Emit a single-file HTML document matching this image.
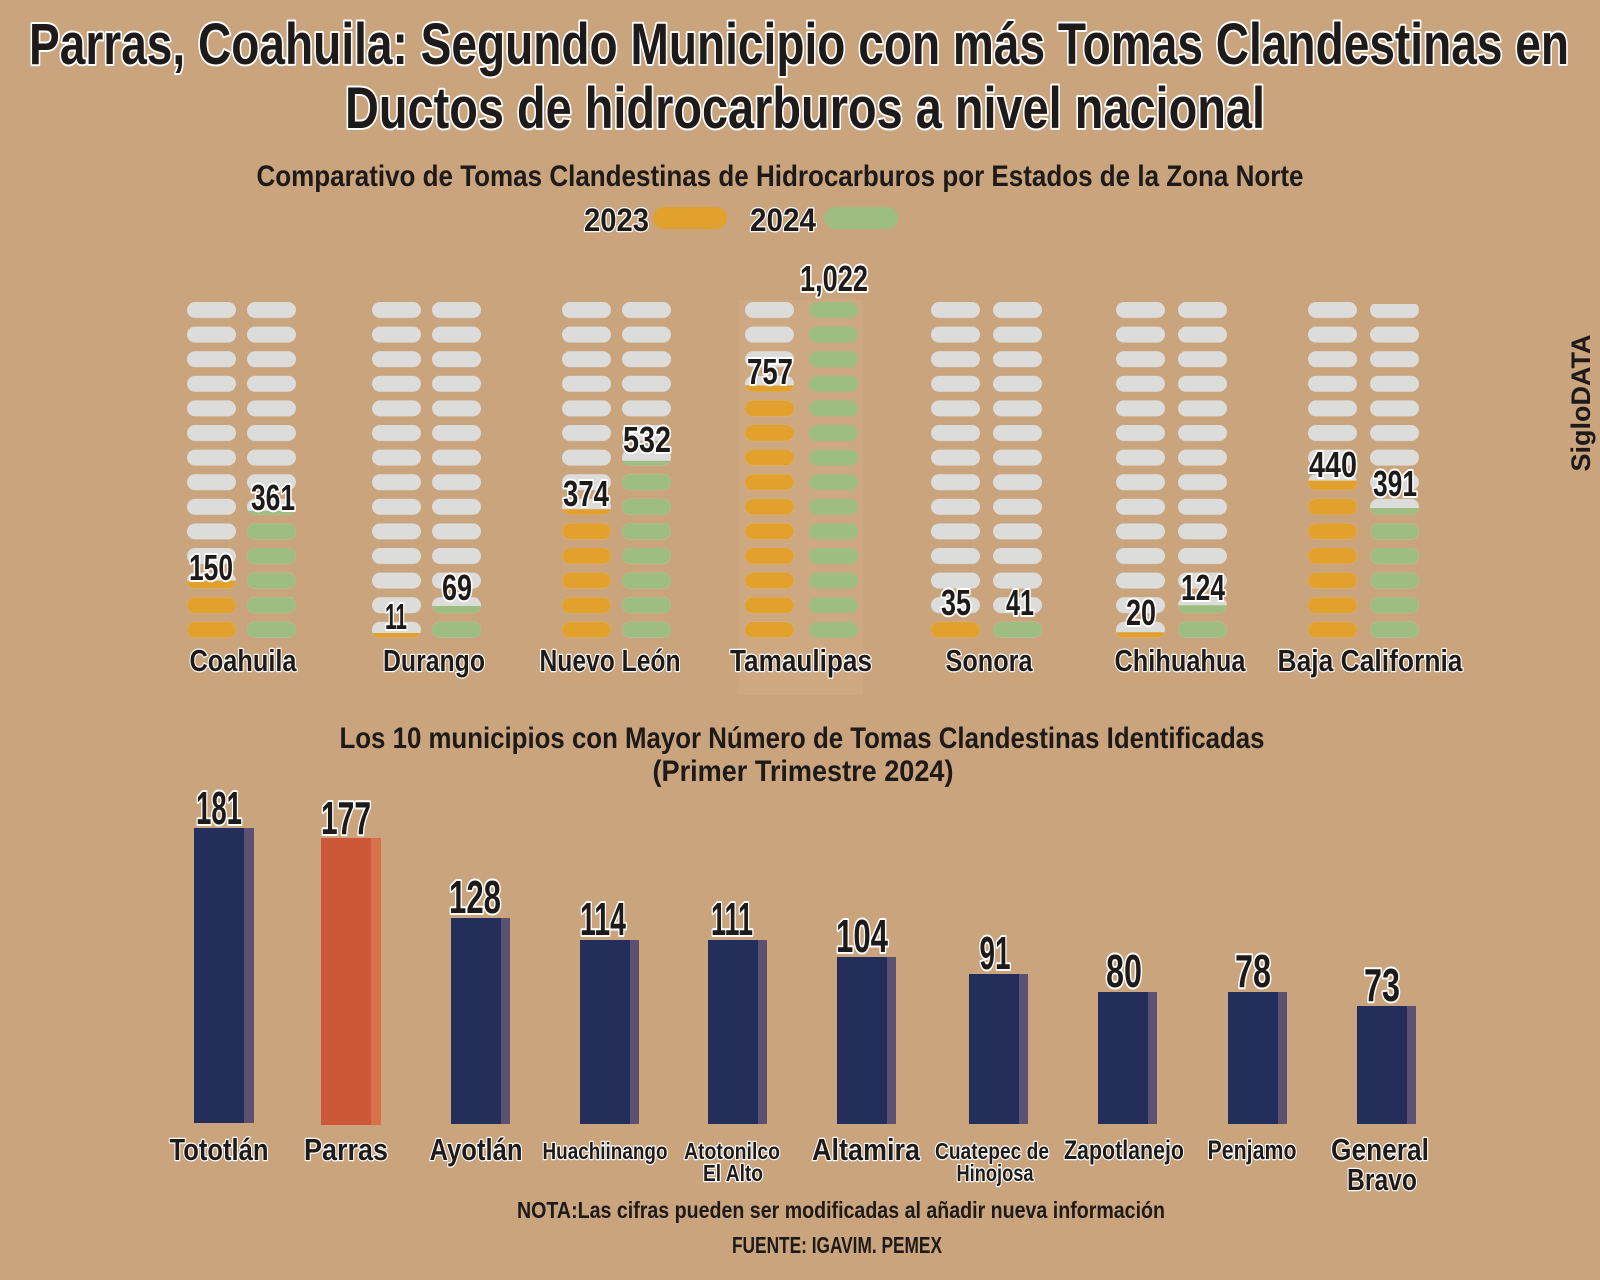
<!DOCTYPE html>
<html><head><meta charset="utf-8"><style>
html,body{margin:0;padding:0;background:#c9a47c;}
svg{display:block}
text{font-family:"Liberation Sans Narrow","Liberation Sans",sans-serif;font-weight:bold;fill:#1e1a1a}
.o{stroke:#fff;stroke-width:4;paint-order:stroke;stroke-linejoin:round}
.o2{stroke:#fff;stroke-width:2.5;paint-order:stroke;stroke-linejoin:round}
</style></head><body>
<svg width="1600" height="1280" viewBox="0 0 1600 1280" xmlns="http://www.w3.org/2000/svg">
<defs>
<pattern id="pg" patternUnits="userSpaceOnUse" x="0" y="302" width="60" height="24.6"><rect x="0" y="0" width="49" height="16" rx="8" fill="#dcdcda"/></pattern>
<pattern id="po" patternUnits="userSpaceOnUse" x="0" y="302" width="60" height="24.6"><rect x="0" y="0" width="49" height="16" rx="8" fill="#e2a12c"/></pattern>
<pattern id="pv" patternUnits="userSpaceOnUse" x="0" y="302" width="60" height="24.6"><rect x="0" y="0" width="49" height="16" rx="8" fill="#9dbe80"/></pattern>
</defs>
<rect width="1600" height="1280" fill="#c9a47c"/>
<rect x="739" y="300" width="124" height="395" fill="#d6b48e" opacity="0.3"/>

<text class="o" x="799" y="64" font-size="58" text-anchor="middle" textLength="1540" lengthAdjust="spacingAndGlyphs">Parras, Coahuila: Segundo Municipio con más Tomas Clandestinas en</text>
<text class="o" x="805" y="128" font-size="58" text-anchor="middle" textLength="920" lengthAdjust="spacingAndGlyphs">Ductos de hidrocarburos a nivel nacional</text>
<text x="780" y="186" font-size="30" text-anchor="middle" textLength="1047" lengthAdjust="spacingAndGlyphs">Comparativo de Tomas Clandestinas de Hidrocarburos por Estados de la Zona Norte</text>
<text class="o2" x="584" y="231" font-size="32" textLength="65" lengthAdjust="spacingAndGlyphs">2023</text>
<rect x="653" y="207" width="74" height="22" rx="11" fill="#e2a12c"/>
<text class="o2" x="750" y="231" font-size="32" textLength="66" lengthAdjust="spacingAndGlyphs">2024</text>
<rect x="824" y="207" width="74" height="22" rx="11" fill="#9dbe80"/>

<g transform="translate(187,0)"><rect x="0" y="302" width="49" height="336" fill="url(#pg)"/><rect x="0" y="580.6" width="49" height="57.2" fill="url(#po)"/></g>
<g transform="translate(247,0)"><rect x="0" y="302" width="49" height="336" fill="url(#pg)"/><rect x="0" y="510.8" width="49" height="127" fill="url(#pv)"/></g>
<g transform="translate(372,0)"><rect x="0" y="302" width="49" height="336" fill="url(#pg)"/><rect x="0" y="633" width="49" height="4.8" fill="url(#po)"/></g>
<g transform="translate(432,0)"><rect x="0" y="302" width="49" height="336" fill="url(#pg)"/><rect x="0" y="606" width="49" height="31.8" fill="url(#pv)"/></g>
<g transform="translate(562,0)"><rect x="0" y="302" width="49" height="336" fill="url(#pg)"/><rect x="0" y="509.2" width="49" height="128.6" fill="url(#po)"/></g>
<g transform="translate(622,0)"><rect x="0" y="302" width="49" height="336" fill="url(#pg)"/><rect x="0" y="460.8" width="49" height="177" fill="url(#pv)"/></g>
<g transform="translate(745,0)"><rect x="0" y="302" width="49" height="336" fill="url(#pg)"/><rect x="0" y="385.4" width="49" height="252.4" fill="url(#po)"/></g>
<g transform="translate(809,0)"><rect x="0" y="302" width="49" height="336" fill="url(#pv)"/></g>
<g transform="translate(931,0)"><rect x="0" y="302" width="49" height="336" fill="url(#pg)"/><rect x="0" y="621.8" width="49" height="16" fill="url(#po)"/></g>
<g transform="translate(993,0)"><rect x="0" y="302" width="49" height="336" fill="url(#pg)"/><rect x="0" y="621.8" width="49" height="16" fill="url(#pv)"/></g>
<g transform="translate(1116,0)"><rect x="0" y="302" width="49" height="336" fill="url(#pg)"/><rect x="0" y="632.2" width="49" height="5.6" fill="url(#po)"/></g>
<g transform="translate(1178,0)"><rect x="0" y="302" width="49" height="336" fill="url(#pg)"/><rect x="0" y="605.2" width="49" height="32.6" fill="url(#pv)"/></g>
<g transform="translate(1308,0)"><rect x="0" y="302" width="49" height="336" fill="url(#pg)"/><rect x="0" y="480.6" width="49" height="157.2" fill="url(#po)"/></g>
<g transform="translate(1370,0)"><rect x="0" y="304" width="49" height="334" fill="url(#pg)"/><rect x="0" y="508" width="49" height="129.8" fill="url(#pv)"/></g>

<g font-size="36" text-anchor="middle">
<text class="o" x="211" y="580" textLength="44" lengthAdjust="spacingAndGlyphs">150</text>
<text class="o" x="273" y="510" textLength="44" lengthAdjust="spacingAndGlyphs">361</text>
<text class="o" x="396" y="629" textLength="22" lengthAdjust="spacingAndGlyphs">11</text>
<text class="o" x="457" y="600" textLength="30" lengthAdjust="spacingAndGlyphs">69</text>
<text class="o" x="586" y="506" textLength="46" lengthAdjust="spacingAndGlyphs">374</text>
<text class="o" x="647" y="452" textLength="48" lengthAdjust="spacingAndGlyphs">532</text>
<text class="o" x="770" y="384" textLength="46" lengthAdjust="spacingAndGlyphs">757</text>
<text class="o" x="834" y="291" textLength="68" lengthAdjust="spacingAndGlyphs">1,022</text>
<text class="o" x="956" y="615" textLength="30" lengthAdjust="spacingAndGlyphs">35</text>
<text class="o" x="1020" y="615" textLength="28" lengthAdjust="spacingAndGlyphs">41</text>
<text class="o" x="1141" y="625" textLength="30" lengthAdjust="spacingAndGlyphs">20</text>
<text class="o" x="1203" y="600" textLength="44" lengthAdjust="spacingAndGlyphs">124</text>
<text class="o" x="1333" y="477" textLength="48" lengthAdjust="spacingAndGlyphs">440</text>
<text class="o" x="1395" y="496" textLength="44" lengthAdjust="spacingAndGlyphs">391</text>
</g>
<g font-size="31" text-anchor="middle">
<text class="o2" x="243" y="671" textLength="107" lengthAdjust="spacingAndGlyphs">Coahuila</text>
<text class="o2" x="434" y="671" textLength="102" lengthAdjust="spacingAndGlyphs">Durango</text>
<text class="o2" x="610" y="671" textLength="141" lengthAdjust="spacingAndGlyphs">Nuevo León</text>
<text class="o2" x="801" y="671" textLength="142" lengthAdjust="spacingAndGlyphs">Tamaulipas</text>
<text class="o2" x="989" y="671" textLength="87" lengthAdjust="spacingAndGlyphs">Sonora</text>
<text class="o2" x="1180" y="671" textLength="131" lengthAdjust="spacingAndGlyphs">Chihuahua</text>
<text class="o2" x="1370" y="671" textLength="185" lengthAdjust="spacingAndGlyphs">Baja California</text>
</g>

<text x="1590" y="403" font-size="27" text-anchor="middle" transform="rotate(-90 1590 403)" style="font-family:'Liberation Sans',sans-serif" fill="#2a2420">SigloDATA</text>

<text x="802" y="748" font-size="30" text-anchor="middle" textLength="925" lengthAdjust="spacingAndGlyphs">Los 10 municipios con Mayor Número de Tomas Clandestinas Identificadas</text>
<text x="803" y="781" font-size="30" text-anchor="middle" textLength="301" lengthAdjust="spacingAndGlyphs">(Primer Trimestre 2024)</text>

<g>
<rect x="244" y="828" width="10" height="295" fill="#5c5170"/><rect x="194" y="828" width="50" height="295" fill="#232e5a"/>
<rect x="371" y="838" width="10" height="287" fill="#d8704a"/><rect x="321" y="838" width="50" height="287" fill="#cc5838"/>
<rect x="501" y="918" width="9" height="206" fill="#5c5170"/><rect x="451" y="918" width="50" height="206" fill="#232e5a"/>
<rect x="630" y="940" width="9" height="184" fill="#5c5170"/><rect x="580" y="940" width="50" height="184" fill="#232e5a"/>
<rect x="758" y="940" width="9" height="184" fill="#5c5170"/><rect x="708" y="940" width="50" height="184" fill="#232e5a"/>
<rect x="887" y="957" width="9" height="167" fill="#5c5170"/><rect x="837" y="957" width="50" height="167" fill="#232e5a"/>
<rect x="1019" y="974" width="9" height="150" fill="#5c5170"/><rect x="969" y="974" width="50" height="150" fill="#232e5a"/>
<rect x="1148" y="992" width="9" height="132" fill="#5c5170"/><rect x="1098" y="992" width="50" height="132" fill="#232e5a"/>
<rect x="1278" y="992" width="9" height="132" fill="#5c5170"/><rect x="1228" y="992" width="50" height="132" fill="#232e5a"/>
<rect x="1407" y="1006" width="9" height="118" fill="#5c5170"/><rect x="1357" y="1006" width="50" height="118" fill="#232e5a"/>
</g>
<g font-size="46" text-anchor="middle">
<text class="o" x="219" y="824" textLength="46" lengthAdjust="spacingAndGlyphs">181</text>
<text class="o" x="346" y="834" textLength="50" lengthAdjust="spacingAndGlyphs">177</text>
<text class="o" x="475" y="913" textLength="52" lengthAdjust="spacingAndGlyphs">128</text>
<text class="o" x="603" y="935" textLength="46" lengthAdjust="spacingAndGlyphs">114</text>
<text class="o" x="732" y="935" textLength="42" lengthAdjust="spacingAndGlyphs">111</text>
<text class="o" x="862" y="952" textLength="52" lengthAdjust="spacingAndGlyphs">104</text>
<text class="o" x="995" y="969" textLength="31" lengthAdjust="spacingAndGlyphs">91</text>
<text class="o" x="1124" y="987" textLength="36" lengthAdjust="spacingAndGlyphs">80</text>
<text class="o" x="1253" y="987" textLength="36" lengthAdjust="spacingAndGlyphs">78</text>
<text class="o" x="1382" y="1001" textLength="36" lengthAdjust="spacingAndGlyphs">73</text>
</g>
<g font-size="31" text-anchor="middle">
<text class="o2" x="219" y="1160" textLength="99" lengthAdjust="spacingAndGlyphs">Tototlán</text>
<text class="o2" x="346" y="1160" textLength="84" lengthAdjust="spacingAndGlyphs">Parras</text>
<text class="o2" x="476" y="1160" textLength="93" lengthAdjust="spacingAndGlyphs">Ayotlán</text>
<text class="o2" x="866" y="1160" textLength="108" lengthAdjust="spacingAndGlyphs">Altamira</text>
<text class="o2" x="1380" y="1160" textLength="98" lengthAdjust="spacingAndGlyphs">General</text>
<text class="o2" x="1382" y="1190" textLength="70" lengthAdjust="spacingAndGlyphs">Bravo</text>
</g>
<g font-size="23" text-anchor="middle">
<text class="o2" x="605" y="1159" textLength="125" lengthAdjust="spacingAndGlyphs">Huachiinango</text>
<text class="o2" x="732" y="1159" textLength="96" lengthAdjust="spacingAndGlyphs">Atotonilco</text>
<text class="o2" x="733" y="1181" textLength="60" lengthAdjust="spacingAndGlyphs">El Alto</text>
<text class="o2" x="992" y="1159" textLength="114" lengthAdjust="spacingAndGlyphs">Cuatepec de</text>
<text class="o2" x="995" y="1181" textLength="77" lengthAdjust="spacingAndGlyphs">Hinojosa</text>
</g>
<g font-size="27" text-anchor="middle">
<text class="o2" x="1124" y="1159" textLength="120" lengthAdjust="spacingAndGlyphs">Zapotlanejo</text>
<text class="o2" x="1252" y="1159" textLength="89" lengthAdjust="spacingAndGlyphs">Penjamo</text>
</g>
<text x="841" y="1218" font-size="23" text-anchor="middle" textLength="648" lengthAdjust="spacingAndGlyphs">NOTA:Las cifras pueden ser modificadas al añadir nueva información</text>
<text x="837" y="1253" font-size="23" text-anchor="middle" textLength="210" lengthAdjust="spacingAndGlyphs">FUENTE: IGAVIM. PEMEX</text>
</svg>
</body></html>
